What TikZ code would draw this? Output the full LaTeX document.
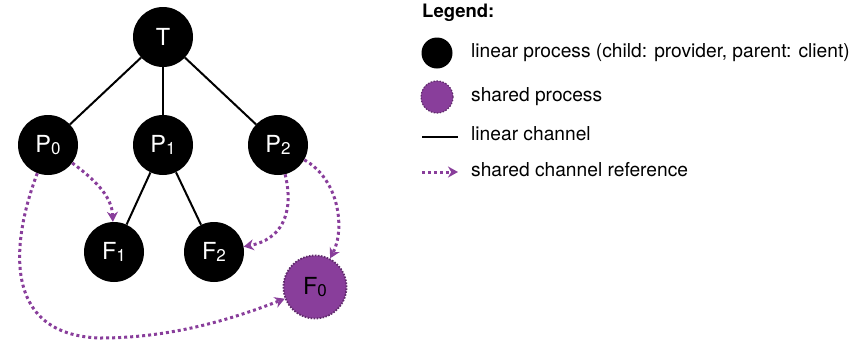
\documentclass[tikz,border=0pt]{standalone}
\usepackage{fontspec}
\setmainfont{TeX Gyre Heros}
\usetikzlibrary{arrows.meta, positioning}
\definecolor{sharedpurple}{RGB}{137,62,155}
\newcommand{\idx}[1]{\raisebox{-2pt}{\fontsize{17}{17}\selectfont #1}}

\begin{document}
\begin{tikzpicture}[x=1pt, y=-1pt, node distance=108pt, >={Stealth[length=10pt, width=11pt]}]
    % Styles
    \tikzstyle{proc} = [circle, fill=black, text=white, minimum size=60pt, inner sep=0pt, font=\fontsize{23.5}{24}\selectfont]
    \tikzstyle{shared} = [circle, fill=sharedpurple, draw=sharedpurple!70!black, dash pattern=on 1.6pt off 1.4pt, line width=1.8pt, minimum size=63pt, inner sep=0pt, text=black, font=\fontsize{23.5}{24}\selectfont]
    \tikzstyle{lin} = [draw, line width=2pt]
    \tikzstyle{ref} = [draw=sharedpurple, line width=3pt, dash pattern=on 3pt off 3pt, ->]
    \tikzstyle{legtext} = [anchor=west, inner sep=0pt, text height=13pt, text depth=4pt, font=\fontsize{19.2}{22}\selectfont]

    \useasboundingbox (0,0) rectangle (852,346);

    % Nodes
    \node [proc] (T) at (163,37) {T};
    \node [proc, below of=T] (P1) {P\idx{1}};
    \node [proc, left of=P1, node distance=115pt] (P0) {P\idx{0}};
    \node [proc, right of=P1, node distance=115pt] (P2) {P\idx{2}};
    \node [proc] (F1) at (114,252) {F\idx{1}};
    \node [proc] (F2) at (214,252) {F\idx{2}};
    \node [shared] (F0) at (315,287) {F\idx{0}};
    \coordinate (bend) at (100,338);

    % Paths
    \path [lin] (T) -- (P0);
    \path [lin] (T) -- (P1);
    \path [lin] (T) -- (P2);
    \path [lin] (P1) -- (F1);
    \path [lin] (P1) -- (F2);

    % Shared references
    \path [ref] (P0) .. controls (98,182) and (112,198) .. (F1);
    \path [ref] (P0) .. controls (12,240) and (0,335) .. (bend) .. controls (170,338) and (230,320) .. (F0);
    \path [ref] (P2) .. controls (295,215) and (280,240) .. (F2);
    \path [ref] (P2) .. controls (340,180) and (345,230) .. (F0);

    % Legend
    \node [anchor=west, inner sep=0pt, font=\bfseries\fontsize{18.5}{22}\selectfont] (legtitle) at (422,13) {Legend:};
    \node [proc, minimum size=31pt] (legproc) at (437,53) {};
    \node [shared, minimum size=32pt, line width=1.2pt] (legshared) at (437,97) {};
    \coordinate (lina) at (422,137);
    \coordinate (linb) at (458,137);
    \path [lin, line width=2.5pt] (lina) -- (linb);
    \coordinate (refa) at (422,172);
    \coordinate (refb) at (458,172);
    \path [ref] (refa) -- (refb);

    \node [legtext] (txtproc) at (471,53) {linear process (child: provider, parent: client)};
    \node [legtext] (txtshared) at (471,97) {shared process};
    \node [legtext] (txtlin) at (471,136) {linear channel};
    \node [legtext] (txtref) at (471,172) {shared channel reference};

\end{tikzpicture}
\end{document}
